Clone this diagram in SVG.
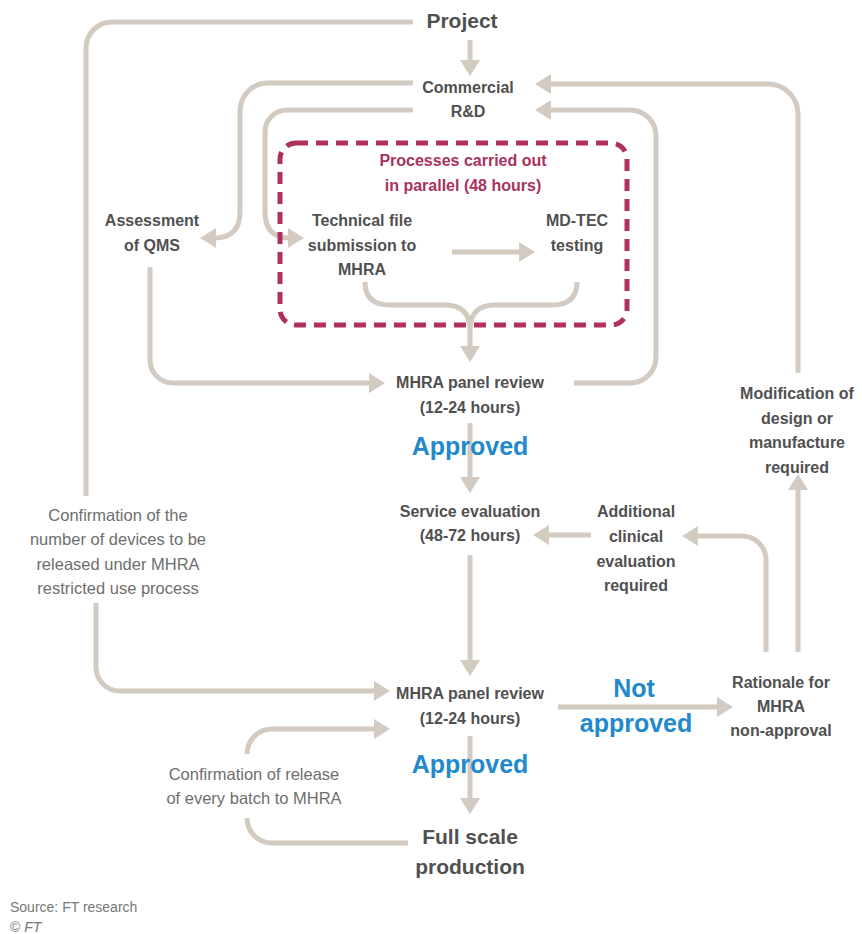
<svg xmlns="http://www.w3.org/2000/svg" width="862" height="934" viewBox="0 0 862 934">
<defs>
<style>
.c{fill:none;stroke:#d3cac1;stroke-width:5}
.a{marker-end:url(#ah)}
.t{font-family:"Liberation Sans",Arial,sans-serif;font-weight:bold;font-size:16px;fill:#505050;text-anchor:middle}
.n{font-family:"Liberation Sans",Arial,sans-serif;font-size:16.5px;fill:#6e6e6e;text-anchor:middle}
.b{font-family:"Liberation Sans",Arial,sans-serif;font-weight:bold;font-size:25px;fill:#2289cb;text-anchor:middle}
.p{font-family:"Liberation Sans",Arial,sans-serif;font-weight:bold;font-size:16px;fill:#a8325e;text-anchor:middle}
.s{font-family:"Liberation Sans",Arial,sans-serif;font-size:14px;fill:#777}
</style>
<marker id="ah" markerUnits="userSpaceOnUse" markerWidth="18" markerHeight="20" viewBox="0 0 16 20" refX="2" refY="10" orient="auto">
<path d="M0,0 L16,10 L0,20 z" fill="#d3cac1"/>
</marker>
</defs>
<rect width="862" height="934" fill="#fff"/>
<g id="connectors">
<path class="c" d="M413,22 H112 A26,26 0 0 0 86,48 V496"/>
<path class="c a" d="M470,40 V62"/>
<path class="c a" d="M413,83 H268 A28,28 0 0 0 240,111 V212 Q240,238 214,238"/>
<path class="c a" d="M413,110 H287 A22,22 0 0 0 265,132 V212 Q265,238 290,238"/>
<path class="c a" d="M452,252 H521"/>
<path class="c" d="M365,282 Q365,305 390,305 H445 Q470,305 470,330"/>
<path class="c a" d="M577,282 Q577,305 552,305 H495 Q470,305 470,330 V348"/>
<path class="c a" d="M150,267 V360 A23,23 0 0 0 173,383 H371"/>
<path class="c a" d="M574,383 H630 A26,26 0 0 0 656,357 V136 A26,26 0 0 0 630,110 H549"/>
<path class="c a" d="M798,373 V114 A30,30 0 0 0 768,84 H549"/>
<path class="c a" d="M470,423 V479"/>
<path class="c a" d="M470,555 V662"/>
<path class="c a" d="M591,535 H547"/>
<path class="c a" d="M766,652 V560 A24,24 0 0 0 742,536 H696"/>
<path class="c a" d="M798,652 V488"/>
<path class="c a" d="M558,707 H719"/>
<path class="c a" d="M96,603 V667 A24,24 0 0 0 120,691 H376"/>
<path class="c a" d="M470,736 V800"/>
<path class="c" d="M408,843 H272 A25,25 0 0 1 247,818"/>
<path class="c a" d="M247,754 A25,25 0 0 1 272,729 H376"/>
</g>
<g id="parallel-box">
<rect x="280" y="143" width="347" height="182" rx="16" fill="none" stroke="#b02f5e" stroke-width="5" stroke-dasharray="12 8"/>
<text class="p" x="463" y="166">Processes carried out</text>
<text class="p" x="463" y="191">in parallel (48 hours)</text>
</g>
<g id="project"><text class="t" x="462" y="28" style="font-size:21px">Project</text></g>
<g id="commercial"><text class="t" x="468" y="93">Commercial</text><text class="t" x="468" y="117">R&amp;D</text></g>
<g id="assessment"><text class="t" x="152" y="226">Assessment</text><text class="t" x="152" y="251">of QMS</text></g>
<g id="technical"><text class="t" x="362" y="226">Technical file</text><text class="t" x="362" y="251">submission to</text><text class="t" x="362" y="275">MHRA</text></g>
<g id="mdtec"><text class="t" x="577" y="226">MD-TEC</text><text class="t" x="577" y="251">testing</text></g>
<g id="panel1"><text class="t" x="470" y="388">MHRA panel review</text><text class="t" x="470" y="413">(12-24 hours)</text></g>
<g id="approved1"><text class="b" x="470" y="455">Approved</text></g>
<g id="service"><text class="t" x="470" y="517">Service evaluation</text><text class="t" x="470" y="541">(48-72 hours)</text></g>
<g id="additional"><text class="t" x="636" y="517">Additional</text><text class="t" x="636" y="542">clinical</text><text class="t" x="636" y="567">evaluation</text><text class="t" x="636" y="591">required</text></g>
<g id="modification"><text class="t" x="797" y="399">Modification of</text><text class="t" x="797" y="424">design or</text><text class="t" x="797" y="448">manufacture</text><text class="t" x="797" y="473">required</text></g>
<g id="confirm-number"><text class="n" x="118" y="521">Confirmation of the</text><text class="n" x="118" y="545">number of devices to be</text><text class="n" x="118" y="570">released under MHRA</text><text class="n" x="118" y="594">restricted use process</text></g>
<g id="panel2"><text class="t" x="470" y="699">MHRA panel review</text><text class="t" x="470" y="724">(12-24 hours)</text></g>
<g id="not-approved"><text class="b" x="634" y="697">Not</text><text class="b" x="636" y="732">approved</text></g>
<g id="rationale"><text class="t" x="781" y="688">Rationale for</text><text class="t" x="781" y="712">MHRA</text><text class="t" x="781" y="736">non-approval</text></g>
<g id="approved2"><text class="b" x="470" y="773">Approved</text></g>
<g id="fullscale"><text class="t" x="470" y="844" style="font-size:21px">Full scale</text><text class="t" x="470" y="874" style="font-size:21px">production</text></g>
<g id="confirm-release"><text class="n" x="254" y="780">Confirmation of release</text><text class="n" x="254" y="804">of every batch to MHRA</text></g>
<g id="source"><text class="s" x="10" y="912">Source: FT research</text><text class="s" x="10" y="932">© <tspan font-style="italic">FT</tspan></text></g>
</svg>
